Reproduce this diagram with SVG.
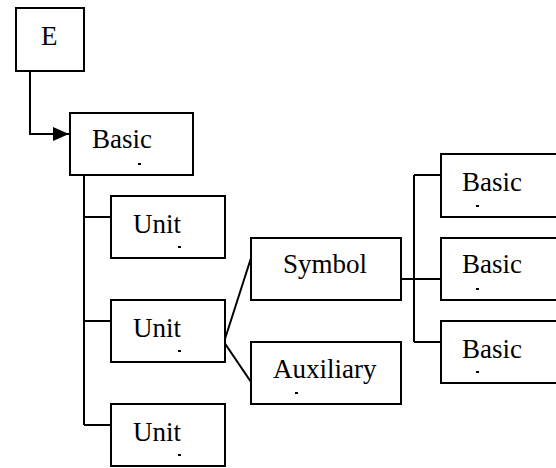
<svg xmlns="http://www.w3.org/2000/svg" width="556" height="468" viewBox="0 0 556 468">
  <style>
    .box { fill: #fff; stroke: #000; stroke-width: 2; }
    .lbl { font-family: "Liberation Serif", "Times New Roman", serif; font-size: 27px; fill: #000; }
    .tick { fill: #000; }
    .wire { fill: none; stroke: #000; stroke-width: 2; }
  </style>
  <defs>
    <marker id="arrow" viewBox="0 0 16 14" refX="16" refY="7" markerWidth="16" markerHeight="14" markerUnits="userSpaceOnUse" orient="auto">
      <path d="M0,0 L16,7 L0,14 Z" fill="#000"/>
    </marker>
  </defs>

  <g id="connectors">
    <path class="wire" d="M30,71 V134 H69" marker-end="url(#arrow)"/>
    <path class="wire" d="M84,175 V425"/>
    <path class="wire" d="M84,217 H111 M84,321 H111 M84,425 H111"/>
    <path class="wire" d="M251,258 L224,342 L251,382"/>
    <path class="wire" d="M401,279 H441 M414,175 V342 M414,175 H441 M414,342 H441"/>
  </g>

  <g id="node-e">
    <rect class="box" x="16" y="8" width="68" height="63"/>
    <text class="lbl" x="41" y="45">E</text>
  </g>

  <g id="node-basic-root">
    <rect class="box" x="70" y="113" width="123" height="62"/>
    <text class="lbl" x="92" y="148">Basic</text>
    <rect class="tick" x="138" y="163" width="3" height="2"/>
  </g>

  <g id="node-unit-1">
    <rect class="box" x="111" y="196" width="114" height="62"/>
    <text class="lbl" x="133" y="233">Unit</text>
    <rect class="tick" x="178" y="246" width="3" height="2"/>
  </g>

  <g id="node-unit-2">
    <rect class="box" x="111" y="300" width="114" height="62"/>
    <text class="lbl" x="133" y="337">Unit</text>
    <rect class="tick" x="178" y="350" width="3" height="2"/>
  </g>

  <g id="node-unit-3">
    <rect class="box" x="111" y="404" width="114" height="62"/>
    <text class="lbl" x="133" y="441">Unit</text>
    <rect class="tick" x="178" y="454" width="3" height="2"/>
  </g>

  <g id="node-symbol">
    <rect class="box" x="251" y="238" width="150" height="62"/>
    <text class="lbl" x="283" y="273">Symbol</text>
  </g>

  <g id="node-auxiliary">
    <rect class="box" x="251" y="342" width="150" height="62"/>
    <text class="lbl" x="273" y="378">Auxiliary</text>
    <rect class="tick" x="295" y="392" width="3" height="2"/>
  </g>

  <g id="node-basic-1">
    <rect class="box" x="441" y="154" width="130" height="63"/>
    <text class="lbl" x="462" y="191">Basic</text>
    <rect class="tick" x="476" y="205" width="3" height="2"/>
  </g>

  <g id="node-basic-2">
    <rect class="box" x="441" y="238" width="130" height="62"/>
    <text class="lbl" x="462" y="273">Basic</text>
    <rect class="tick" x="476" y="288" width="3" height="2"/>
  </g>

  <g id="node-basic-3">
    <rect class="box" x="441" y="321" width="130" height="62"/>
    <text class="lbl" x="462" y="358">Basic</text>
    <rect class="tick" x="476" y="371" width="3" height="2"/>
  </g>
</svg>
